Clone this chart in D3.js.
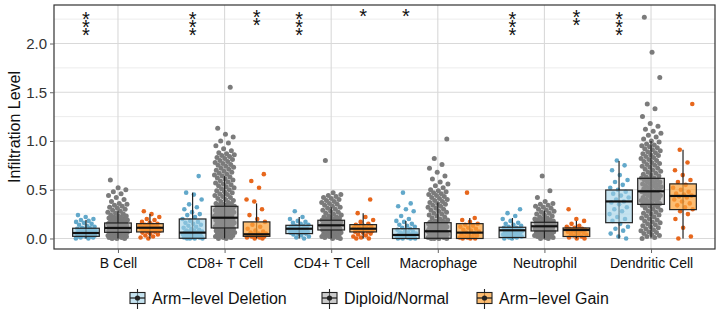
<!DOCTYPE html>
<html>
<head>
<meta charset="utf-8">
<script src="https://cdn.jsdelivr.net/npm/d3@7"></script>
<style>
  body { margin: 0; background: #fff; }
  svg { display: block; font-family: "Liberation Sans", Arial, sans-serif; }
  .stars { writing-mode: vertical-rl; text-orientation: upright; }
</style>
</head>
<body>
<svg id="drawing_region"></svg>
<script>
// categories and groups
var categories = ['B Cell', 'CD8+ T Cell', 'CD4+ T Cell', 'Macrophage', 'Neutrophil', 'Dendritic Cell'];
var groups = ['Arm−level Deletion', 'Diploid/Normal', 'Arm−level Gain'];
var yticks = [0, 0.5, 1.0, 1.5, 2.0];
var yminor = [0.25, 0.75, 1.25, 1.75, 2.25];

// box stats: [lower whisker, q1, median, q3, upper whisker]
var deletionBox = [
  [0, 0.022, 0.056, 0.105, 0.19],
  [0, 0.002, 0.06, 0.2, 0.47],
  [0, 0.05, 0.1, 0.135, 0.22],
  [0, 0, 0.036, 0.1, 0.18],
  [0, 0.01, 0.084, 0.115, 0.21],
  [0, 0.162, 0.38, 0.497, 0.795]
];
var diploidBox = [
  [0, 0.063, 0.108, 0.159, 0.285],
  [0, 0.108, 0.213, 0.33, 0.64],
  [0, 0.087, 0.135, 0.187, 0.32],
  [0, 0.002, 0.074, 0.162, 0.37],
  [0, 0.077, 0.125, 0.166, 0.285],
  [0, 0.35, 0.484, 0.617, 1.0]
];
var gainBox = [
  [0, 0.067, 0.11, 0.152, 0.25],
  [0, 0.022, 0.043, 0.17, 0.36],
  [0, 0.067, 0.1, 0.142, 0.26],
  [0, 0, 0.06, 0.152, 0.21],
  [0, 0.02, 0.087, 0.108, 0.18],
  [0, 0.296, 0.436, 0.56, 0.91]
];

// jittered points, values x 0.01
var deletionPoints = [
  [0,0,1,1,2,2,2,3,3,3,4,4,4,5,5,5,6,6,6,7,7,8,8,9,9,10,10,11,11,12,13,14,15,16,17,18,19,20,22,24],
  [0,0,0,0,1,1,1,2,2,2,3,3,3,4,4,4,5,5,5,6,6,7,7,8,8,9,10,11,12,13,14,15,16,17,18,20,22,24,25,27,30,32,35,40,45,47,64],
  [0,1,2,3,4,5,5,6,6,7,7,8,8,9,9,10,10,11,11,12,12,13,13,14,15,16,17,18,20,22,28],
  [0,0,0,0,1,1,1,2,2,2,3,3,3,4,4,5,5,6,6,7,8,9,10,11,12,13,14,15,17,18,20,23,28,30,33,36,47],
  [0,0,1,1,2,2,3,3,4,4,5,5,6,6,7,7,8,8,9,9,10,10,11,11,12,13,14,15,16,18,20,23,26,30],
  [0,2,5,8,10,12,15,18,20,22,25,28,30,32,35,37,38,40,42,44,46,48,50,52,55,58,60,65,70,75,80]
];
var diploidPoints = [
  [0,0,0,1,1,1,2,2,2,3,3,3,4,4,4,5,5,5,6,6,6,7,7,7,8,8,8,9,9,9,10,10,10,11,11,11,12,12,12,13,13,13,14,14,14,15,15,16,16,17,17,18,18,19,19,20,20,21,21,22,22,23,23,24,25,26,27,28,29,30,31,32,33,34,35,36,38,40,42,44,46,48,50,52,60],
  [0,0,1,1,2,2,3,3,4,4,5,5,6,6,7,7,8,8,9,9,10,10,11,11,12,12,13,13,14,14,15,15,16,16,17,17,18,18,19,19,20,20,21,21,22,22,23,23,24,24,25,25,26,26,27,27,28,28,29,29,30,30,31,31,32,32,33,33,34,34,35,35,36,37,38,39,40,41,42,43,44,45,46,47,48,49,50,51,52,53,54,55,56,57,58,59,60,61,62,63,64,65,66,67,68,69,70,71,72,73,74,75,76,77,78,79,80,81,82,83,84,85,86,87,88,90,92,95,98,100,104,107,113,155],
  [0,0,1,1,2,2,3,3,4,4,5,5,6,6,7,7,8,8,9,9,10,10,11,11,12,12,13,13,14,14,15,15,16,16,17,17,18,18,19,19,20,20,21,21,22,22,23,24,25,26,27,28,29,30,31,32,33,34,35,36,37,38,39,40,41,42,43,44,45,47,80],
  [0,0,0,0,1,1,1,2,2,2,3,3,3,4,4,4,5,5,5,6,6,6,7,7,7,8,8,8,9,9,10,10,11,11,12,12,13,13,14,14,15,15,16,16,17,17,18,18,19,20,21,22,23,24,25,26,27,28,29,30,31,32,33,34,35,36,37,38,39,40,41,42,43,44,45,46,47,48,49,50,52,54,56,58,61,64,68,72,76,82,102],
  [0,0,1,1,2,2,3,3,4,4,5,5,6,6,7,7,8,8,9,9,10,10,11,11,12,12,13,13,14,14,15,15,16,16,17,17,18,18,19,19,20,20,21,22,23,24,25,26,27,28,29,30,31,32,33,34,35,36,38,42,49,64],
  [0,1,2,3,4,5,6,7,8,9,10,11,12,13,14,15,16,17,18,19,20,21,22,23,24,25,26,27,28,29,30,31,32,33,34,34,35,36,36,37,38,38,39,40,40,41,42,42,43,44,44,45,46,46,47,48,48,49,50,50,51,52,52,53,54,54,55,56,56,57,58,58,59,60,60,61,62,62,63,64,65,66,67,68,69,70,71,72,73,74,75,76,77,78,79,80,81,82,83,84,85,86,87,88,89,90,91,92,93,94,95,96,97,99,100,102,104,106,108,110,112,115,118,125,133,138,165,191,227]
];
var gainPoints = [
  [0,1,2,3,4,5,6,7,7,8,8,9,9,10,10,11,11,11,12,12,12,13,13,14,14,15,16,17,19,20,22,25,28],
  [0,0,1,1,2,2,3,3,4,4,5,5,6,7,8,10,12,14,17,20,24,30,38,40,52,59,66],
  [0,0,1,2,3,4,5,6,7,7,8,8,9,9,10,10,11,11,12,12,13,14,15,17,19,22,26,40],
  [0,0,0,1,1,2,2,3,3,4,5,6,7,8,9,10,11,12,13,14,15,17,19,21,47],
  [0,0,1,2,3,4,5,5,6,7,7,8,8,9,9,10,10,11,12,13,15,18,20,30],
  [0,2,11,20,25,28,30,32,34,36,38,40,42,43,44,45,46,48,50,52,55,58,60,65,70,78,91,138]
];

// significance labels over deletion / gain
var deletionStars = ['***', '***', '***', '*', '***', '***'];
var gainStars = ['', '**', '*', '', '**', ''];

var config = {
  parent: '#drawing_region',
  width: 719,
  height: 311,
  margin: {top: 5, right: 4, bottom: 62, left: 54}
};

class BoxJitterChart {

  constructor(config) {
    this.config = config;
    this.boxes = [deletionBox, diploidBox, gainBox];
    this.points = [deletionPoints, diploidPoints, gainPoints];
    this.stars = [deletionStars, null, gainStars];
    this.pointColor = ['#62a8ca', '#7b7b7b', '#e7671c'];
    this.boxFill = ['#9fd0e6', '#999999', '#fca43c'];
    this.boxOpacity = [0.6, 0.5, 0.72];
    this.init();
  }

  init() {
    let self = this;
    self.svg = d3.select(self.config.parent)
      .attr('width', self.config.width)
      .attr('height', self.config.height);

    self.inner_width = self.config.width - self.config.margin.left - self.config.margin.right;
    self.inner_height = self.config.height - self.config.margin.top - self.config.margin.bottom;

    self.chart = self.svg.append('g')
      .attr('transform', `translate(${self.config.margin.left}, ${self.config.margin.top})`);

    self.xscale = d3.scalePoint()
      .domain(categories)
      .range([0, self.inner_width])
      .padding(0.6);

    let step = self.xscale.step();
    self.gscale = d3.scalePoint()
      .domain(groups)
      .range([-0.3 * step, 0.3 * step]);
    self.boxWidth = 0.25 * step;
    self.jitter = 0.095 * step;

    self.yscale = d3.scaleLinear()
      .domain([-0.108, 2.395])
      .range([self.inner_height, 0]);
  }

  render() {
    let self = this;
    let ih = self.inner_height, iw = self.inner_width;

    // grid
    self.chart.append('g').selectAll('line')
      .data(yminor).enter().append('line')
      .attr('x1', 0).attr('x2', iw)
      .attr('y1', d => self.yscale(d)).attr('y2', d => self.yscale(d))
      .attr('stroke', '#ececec').attr('stroke-width', 1);
    self.chart.append('g').selectAll('line')
      .data(yticks).enter().append('line')
      .attr('x1', 0).attr('x2', iw)
      .attr('y1', d => self.yscale(d)).attr('y2', d => self.yscale(d))
      .attr('stroke', '#d9d9d9').attr('stroke-width', 1.1);
    self.chart.append('g').selectAll('line')
      .data(categories).enter().append('line')
      .attr('x1', d => self.xscale(d)).attr('x2', d => self.xscale(d))
      .attr('y1', 0).attr('y2', ih)
      .attr('stroke', '#d9d9d9').attr('stroke-width', 1.1);

    // jittered points (behind boxes)
    groups.forEach((g, gi) => {
      let pts = [];
      categories.forEach((c, ci) => {
        self.points[gi][ci].forEach((v, i) => {
          let u = (i * 0.6180339887 + ci * 0.37 + gi * 0.21) % 1;
          pts.push({cx: self.xscale(c) + self.gscale(g) + (u * 2 - 1) * self.jitter, v: v / 100});
        });
      });
      self.chart.append('g').selectAll('circle')
        .data(pts).enter().append('circle')
        .attr('cx', d => d.cx)
        .attr('cy', d => self.yscale(d.v))
        .attr('r', gi == 1 ? 2.5 : 2.3)
        .attr('fill', self.pointColor[gi]);
    });

    // boxes
    groups.forEach((g, gi) => {
      let bg = self.chart.append('g');
      categories.forEach((c, ci) => {
        let s = self.boxes[gi][ci];
        let cx = self.xscale(c) + self.gscale(g);
        let bw = self.boxWidth;
        bg.append('line')
          .attr('x1', cx).attr('x2', cx)
          .attr('y1', self.yscale(s[0])).attr('y2', self.yscale(s[4]))
          .attr('stroke', '#222').attr('stroke-width', 1.2);
        bg.append('rect')
          .attr('x', cx - bw / 2).attr('width', bw)
          .attr('y', self.yscale(s[3]))
          .attr('height', self.yscale(s[1]) - self.yscale(s[3]))
          .attr('fill', self.boxFill[gi]).attr('fill-opacity', self.boxOpacity[gi])
          .attr('stroke', '#222').attr('stroke-width', 1.2);
        bg.append('line')
          .attr('x1', cx - bw / 2).attr('x2', cx + bw / 2)
          .attr('y1', self.yscale(s[2])).attr('y2', self.yscale(s[2]))
          .attr('stroke', '#111').attr('stroke-width', 2.2);
      });
    });

    // stars: one vertical text per stack
    [0, 2].forEach(gi => {
      categories.forEach((c, ci) => {
        let lab = self.stars[gi][ci];
        if (lab.length == 0) return;
        self.chart.append('text')
          .attr('class', 'stars')
          .attr('x', self.xscale(c) + self.gscale(groups[gi]))
          .attr('y', -0.5 + (lab.length - 1) * 1.6)
          .attr('font-size', 20)
          .attr('letter-spacing', -13.8)
          .attr('fill', '#111')
          .text(lab);
      });
    });

    // panel border
    self.chart.append('rect')
      .attr('x', 0).attr('y', 0).attr('width', iw).attr('height', ih)
      .attr('fill', 'none').attr('stroke', '#333').attr('stroke-width', 1.2);

    // axes
    let yaxis = d3.axisLeft(self.yscale)
      .tickValues(yticks)
      .tickFormat(d3.format('.1f'))
      .tickSize(4).tickPadding(3);
    let yg = self.chart.append('g').call(yaxis);
    yg.select('.domain').remove();
    yg.selectAll('line').attr('stroke', '#666');
    yg.selectAll('text').attr('font-size', 15).attr('fill', '#333')
      .attr('font-family', '"Liberation Sans", Arial, sans-serif');

    let xaxis = d3.axisBottom(self.xscale).tickSize(4).tickPadding(5);
    let xg = self.chart.append('g')
      .attr('transform', `translate(0, ${ih})`)
      .call(xaxis);
    xg.select('.domain').remove();
    xg.selectAll('line').attr('stroke', '#666');
    xg.selectAll('text').attr('font-size', 14).attr('fill', '#111')
      .attr('font-family', '"Liberation Sans", Arial, sans-serif');

    // y title
    self.svg.append('text')
      .attr('transform', `translate(20, ${self.config.margin.top + ih / 2}) rotate(-90)`)
      .attr('text-anchor', 'middle')
      .attr('font-size', 16)
      .attr('fill', '#111')
      .text('Infiltration Level');

    // legend
    let legX = [130, 322, 477];
    let ly = 298;
    groups.forEach((g, gi) => {
      let lg = self.svg.append('g').attr('transform', `translate(${legX[gi]}, ${ly})`);
      lg.append('line').attr('x1', 7.5).attr('x2', 7.5).attr('y1', -9).attr('y2', 11)
        .attr('stroke', '#222').attr('stroke-width', 1.1);
      lg.append('rect').attr('x', 0).attr('y', -5.5).attr('width', 15).attr('height', 11)
        .attr('fill', self.boxFill[gi]).attr('fill-opacity', self.boxOpacity[gi])
        .attr('stroke', '#222').attr('stroke-width', 1.1);
      lg.append('line').attr('x1', 0).attr('x2', 15).attr('y1', 0).attr('y2', 0)
        .attr('stroke', '#222').attr('stroke-width', 1.3);
      lg.append('circle').attr('cx', 7.5).attr('cy', 0).attr('r', 2.6).attr('fill', '#222');
      lg.append('text').attr('x', 22).attr('y', 6)
        .attr('font-size', 16).attr('fill', '#111')
        .text(g);
    });
  }
}

const chart = new BoxJitterChart(config);
chart.render();
</script>
</body>
</html>
